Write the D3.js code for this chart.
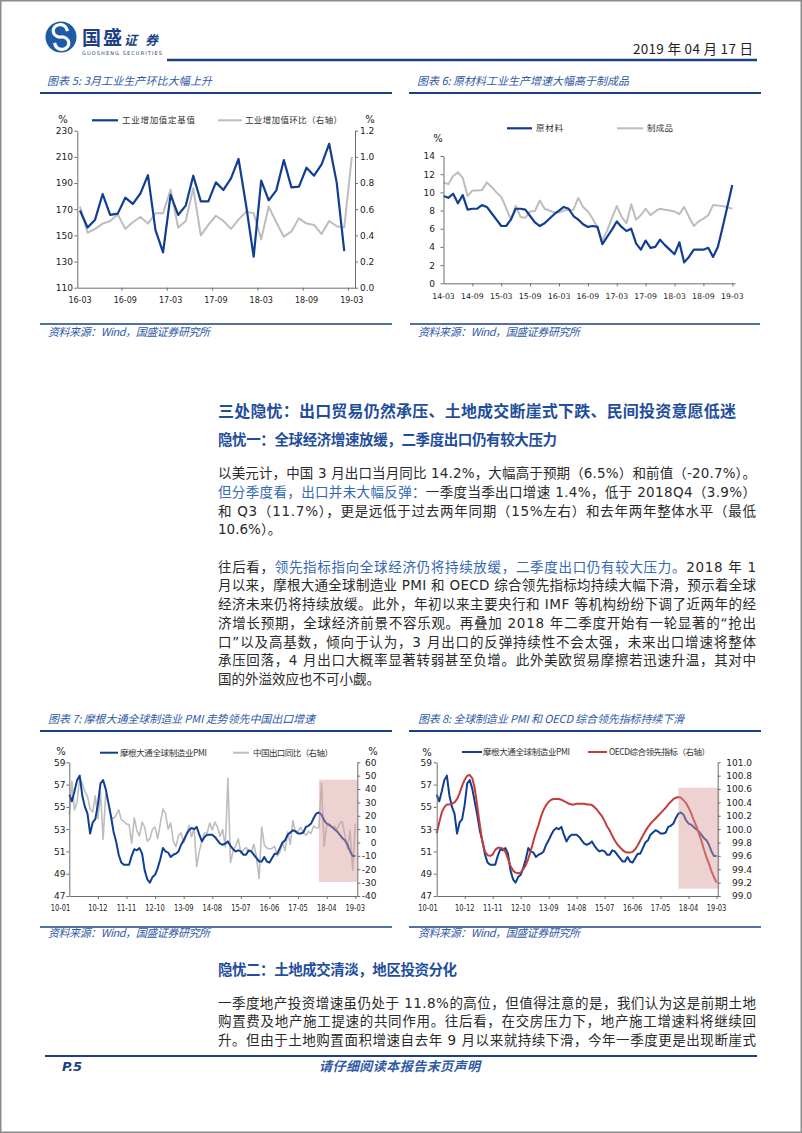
<!DOCTYPE html>
<html>
<head>
<meta charset="utf-8">
<script src="https://cdn.jsdelivr.net/npm/d3@7/dist/d3.min.js"></script>
<style>
  body { margin: 0; background: #fff; }
  svg { display: block; }
</style>
</head>
<body>
<div id="page"></div>
<script>
// ---------------- data ----------------

// 图表5: 工业增加值定基值 / 环比（右轴），2016-03 ~ 2019-03
var c5Names = ['工业增加值定基值', '工业增加值环比（右轴）'];
var c5Base = [169, 156, 162, 181.6, 165.6, 166.6, 178.8, 174, 182, 196,
  154, 137, 181, 165.6, 172.7, 195.6, 176, 176, 190.5, 184.7,
  193.6, 208.4, 173, 133.7, 191.8, 176.8, 184.4, 207.6, 186.7, 187.3,
  201.7, 195.6, 204.3, 220, 190.3, 138];
var c5Mom = [0.62, 0.42, 0.45, 0.49, 0.51, 0.56, 0.45, 0.50, 0.54, 0.49,
  0.57, 0.57, 0.75, 0.46, 0.51, 0.76, 0.40, 0.48, 0.55, 0.51,
  0.45, 0.52, 0.58, 0.57, 0.37, 0.62, 0.50, 0.39, 0.43, 0.53,
  0.49, 0.48, 0.41, 0.51, 0.47, 0.46, 1.00];
var c5LeftTicks = [110, 130, 150, 170, 190, 210, 230];
var c5RightTicks = [0, 0.2, 0.4, 0.6, 0.8, 1.0, 1.2];
var c5XLabels = ['16-03', '16-09', '17-03', '17-09', '18-03', '18-09', '19-03'];

// 图表6: 原材料 / 制成品，2014-03 ~ 2019-03
var c6Names = ['原材料', '制成品'];
var c6Raw = [9.6, 9.4, 9.85, 8.8, 9.7, 8.1, 8.2, 8.2, 8.6, 8.4,
  7.7, 7.0, 6.3, 6.3, 7.0, 8.2, 8.2, 8.1, 7.4, 6.7,
  6.3, 6.6, 7.1, 7.6, 8.0, 8.4, 8.2, 7.4, 7.0, 6.5,
  6.2, 6.3, 6.2, 4.3, 5.1, 5.9, 6.8, 6.2, 5.75, 6.0,
  4.4, 3.7, 4.7, 3.9, 4.0, 4.8, 4.2, 3.7, 3.2, 4.5,
  2.3, 2.9, 3.7, 3.7, 3.7, 3.9, 2.9, 4.0, 6.2, 8.5,
  10.8];
var c6Made = [11.1, 10.9, 11.8, 12.2, 11.6, 9.6, 10.2, 10.2, 10.25, 11.1,
  10.6, 10.0, 9.5, 8.3, 7.0, 8.5, 7.3, 7.2, 7.9, 7.95,
  9.1, 8.2, 8.0, 7.8, 7.8, 8.0, 8.05, 8.1, 9.4, 8.4,
  7.9, 7.1, 6.1, 4.7, 5.8, 7.2, 8.5, 7.3, 6.6, 8.7,
  7.0, 7.5, 8.2, 7.5, 7.9, 8.2, 8.1, 8.0, 7.9, 7.6,
  8.4, 7.3, 6.3, 6.8, 7.1, 7.5, 8.6, 8.55, 8.5, 8.35,
  8.2];
var c6Ticks = [0, 2, 4, 6, 8, 10, 12, 14];
var c6XLabels = ['14-03', '14-09', '15-03', '15-09', '16-03', '16-09', '17-03', '17-09', '18-03', '18-09', '19-03'];

// 图表7/8: 摩根大通全球制造业PMI, 中国出口同比, OECD综合领先指标，2010-01 ~ 2019-03
var pmiName = '摩根大通全球制造业PMI';
var exportName = '中国出口同比（右轴）';
var oecdName = 'OECD综合领先指标（右轴）';
var pmi = [56.1, 55.5, 56.4, 57.4, 57.8, 56.0, 55.0, 54.4, 52.6, 53.6,
  53.9, 55.2, 57.1, 57.4, 56.6, 55.4, 54.2, 52.8, 51.9, 50.7,
  50.0, 49.8, 49.8, 49.8, 50.6, 51.2, 51.1, 51.3, 50.8, 49.3,
  48.5, 48.2, 48.7, 48.9, 49.5, 50.3, 51.3, 51.0, 50.9, 50.5,
  50.7, 50.8, 51.0, 51.6, 52.0, 52.5, 52.9, 53.1, 53.0, 53.2,
  52.5, 51.9, 52.3, 52.5, 52.5, 52.5, 52.3, 52.0, 51.7, 51.6,
  51.7, 51.9, 51.5, 51.2, 51.0, 51.1, 51.0, 50.7, 50.7, 51.1,
  51.0, 50.7, 50.4, 50.1, 50.1, 50.5, 50.1, 50.0, 50.4, 50.8,
  50.8, 51.3, 51.8, 52.0, 52.5, 52.7, 52.9, 52.8, 52.6, 52.6,
  52.7, 53.2, 53.3, 53.5, 54.0, 54.4, 54.5, 54.3, 53.8, 53.5,
  53.4, 53.2, 53.0, 52.8, 52.5, 52.2, 52.0, 51.6, 51.0, 50.6,
  50.6];
var exportYoy = [21.0, 45.7, 24.3, 30.5, 48.5, 43.9, 38.1, 34.4, 25.1, 22.9, 34.9, 17.9,
  37.7, 2.4, 35.8, 29.9, 19.4, 17.9, 20.4, 24.5, 17.1, 15.9, 13.8, 13.4,
  -0.5, 18.4, 8.9, 4.9, 15.3, 11.3, 1.0, 2.7, 9.9, 11.6, 2.9, 14.1,
  25.0, 21.8, 10.0, 14.7, 1.0, -3.1, 5.1, 7.2, -0.3, 5.6, 12.7, 4.3,
  10.6, -18.1, -6.6, 0.9, 7.0, 7.2, 14.5, 9.4, 15.3, 11.6, 4.7, 9.7,
  -3.3, 48.3, -15.0, -6.4, -2.5, 2.8, -8.3, -5.5, -3.7, -6.9, -6.8, -1.4,
  -11.2, -27.0, 11.5, -1.8, -4.1, -4.8, -4.4, -2.8, -10.0, -7.3, 0.1, -6.1,
  7.9, -1.3, 16.4, 8.0, 8.7, 11.3, 7.2, 5.5, 8.1, 6.9, 12.3, 10.9,
  11.1, 44.5, -2.7, 12.9, 12.6, 11.3, 12.2, 9.8, 14.5, 15.6, 5.4, -4.4,
  9.1, -20.7, 14.2];
var oecd = [99.94, 100.10, 100.25, 100.33, 100.37, 100.37, 100.38, 100.40, 100.45, 100.54,
  100.65, 100.74, 100.80, 100.81, 100.76, 100.60, 100.33, 100.05, 99.80, 99.66,
  99.61, 99.60, 99.62, 99.69, 99.72, 99.72, 99.71, 99.66, 99.56, 99.45,
  99.38, 99.35, 99.34, 99.35, 99.40, 99.46, 99.56, 99.68, 99.82, 99.95,
  100.06, 100.19, 100.29, 100.36, 100.41, 100.44, 100.45, 100.45, 100.45, 100.44,
  100.42, 100.40, 100.38, 100.37, 100.37, 100.38, 100.38, 100.38, 100.38, 100.37,
  100.37, 100.36, 100.33, 100.29, 100.24, 100.19, 100.12, 100.04, 99.98, 99.90,
  99.83, 99.77, 99.73, 99.69, 99.66, 99.65, 99.65, 99.66, 99.70, 99.76,
  99.83, 99.90, 99.97, 100.03, 100.08, 100.12, 100.16, 100.20, 100.24, 100.28,
  100.32, 100.37, 100.41, 100.45, 100.47, 100.48, 100.47, 100.43, 100.39, 100.32,
  100.24, 100.14, 100.05, 99.94, 99.83, 99.70, 99.58, 99.48, 99.37, 99.28,
  99.20];
var pmiTicks = [47, 49, 51, 53, 55, 57, 59];
var exportTicks = [-40, -30, -20, -10, 0, 10, 20, 30, 40, 50, 60];
var oecdTicks = [99.0, 99.2, 99.4, 99.6, 99.8, 100.0, 100.2, 100.4, 100.6, 100.8, 101.0];
var c78XLabels = ['10-01', '10-12', '11-11', '12-10', '13-09', '14-08', '15-07', '16-06', '17-05', '18-04', '19-03'];

// ---------------- page ----------------
var fmtM = d3.timeFormat('%y-%m');
function months(y0, m0, y1, m1) {
  return d3.timeMonth.range(new Date(y0, m0 - 1, 1), new Date(y1, m1, 1)).map(fmtM);
}

var BLUE = '#103e92', GREY = '#bdbdbd', RED = '#c43c3c', NAVY = '#1d3f86',
    TBLUE = '#2f5aa6', HEAD = '#1f4e9c', EMPH = '#3468b4', BODY = '#2a2a2a', AX = '#6e6e6e';
var CN = '"Noto Sans CJK SC", sans-serif';
var NUM = '"DejaVu Sans", "Noto Sans CJK SC", sans-serif';

var svg = d3.select('#page').append('svg')
    .attr('width', 802)
    .attr('height', 1133);

svg.append('rect')
    .attr('x', 0.75).attr('y', 0.75)
    .attr('width', 800.5).attr('height', 1131.5)
    .attr('fill', '#fff')
    .attr('stroke', '#8c8c8c')
    .attr('stroke-width', 1.5);

function txt(x, y, s, o) {
  o = o || {};
  var t = svg.append('text')
      .attr('x', x).attr('y', y)
      .attr('font-family', o.font || CN)
      .attr('font-size', o.size || 12)
      .attr('fill', o.fill || BODY)
      .text(s);
  if (o.weight) t.attr('font-weight', o.weight);
  if (o.italic) t.attr('font-style', 'italic');
  if (o.anchor) t.attr('text-anchor', o.anchor);
  if (o.len) t.attr('textLength', o.len).attr('lengthAdjust', o.adjust || 'spacing');
  return t;
}
function hline(x1, x2, y, w, c) {
  svg.append('line')
      .attr('x1', x1).attr('x2', x2).attr('y1', y).attr('y2', y)
      .attr('stroke', c || NAVY).attr('stroke-width', w);
}

// header: logo + date
svg.append('circle').attr('cx', 61).attr('cy', 37).attr('r', 15.5).attr('fill', '#1e5aa8');
svg.append('path')
    .attr('d', 'M67,29.5 A7,6.2 0 1 0 61,37 A7,6.2 0 1 1 55,44.5')
    .attr('fill', 'none').attr('stroke', '#fff').attr('stroke-width', 3.2).attr('stroke-linecap', 'square');
txt(82, 45, '国盛', { size: 19, weight: 'bold', fill: NAVY, len: 40 });
txt(124, 45, '证券', { size: 13, weight: 'bold', italic: true, fill: NAVY, len: 34 });
txt(82, 54.5, 'GUOSHENG SECURITIES', { font: NUM, size: 5, fill: NAVY, len: 80 });
txt(753, 54, '2019 年 04 月 17 日', { size: 13.5, anchor: 'end', fill: '#222', len: 120 });
hline(167, 757, 60, 2.5);

// chart titles + rules
var titleOpt = { size: 11, italic: true, fill: TBLUE };
txt(47, 84.5, '图表 5:  3月工业生产环比大幅上升', Object.assign({ len: 165 }, titleOpt));
txt(417, 84.5, '图表 6:  原材料工业生产增速大幅高于制成品', Object.assign({ len: 212 }, titleOpt));
hline(40, 392, 93, 2);
hline(409, 761, 93, 2);
txt(48, 723, '图表 7:  摩根大通全球制造业 PMI 走势领先中国出口增速', Object.assign({ len: 267 }, titleOpt));
txt(418, 723, '图表 8:  全球制造业 PMI 和 OECD 综合领先指标持续下滑', Object.assign({ len: 266 }, titleOpt));
hline(40, 392, 731, 2);
hline(409, 761, 731, 2);

// sources
var srcOpt = { size: 11, italic: true, fill: TBLUE, len: 162 };
hline(40, 392, 324, 1.5);
hline(410, 760, 324, 1.5);
txt(48, 336, '资料来源：Wind，国盛证券研究所', srcOpt);
txt(418, 336, '资料来源：Wind，国盛证券研究所', srcOpt);
hline(40, 392, 927, 1.5);
hline(409, 761, 927, 1.5);
txt(48, 937, '资料来源：Wind，国盛证券研究所', srcOpt);
txt(418, 937, '资料来源：Wind，国盛证券研究所', srcOpt);

// ---------------- charts ----------------
function drawChart(c) {
  var n = c.cats.length;
  var x = d3.scaleLinear().domain([0, n - 1]).range([c.px0, c.px1]);
  var xa = d3.scaleLinear().domain([x.invert(c.axL), x.invert(c.axR)]).range([c.axL, c.axR]);
  var yL = d3.scaleLinear().domain(c.leftDom).range([c.yBot, c.yTop]);
  var yR = c.rightDom ? d3.scaleLinear().domain(c.rightDom).range([c.yBot, c.yTop]) : null;
  var g = svg.append('g');

  c.series.forEach(function (s) {
    var y = s.axis === 'right' ? yR : yL;
    g.append('path')
        .datum(s.values)
        .attr('fill', 'none')
        .attr('stroke', s.color)
        .attr('stroke-width', s.width)
        .attr('stroke-linejoin', 'round')
        .attr('d', d3.line()
            .x(function (d, i) { return x(i); })
            .y(function (d) { return y(d); }));
  });

  // shaded box over the latest period
  if (c.shade) {
    var i0 = c.cats.indexOf(c.shade.from);
    g.append('rect')
        .attr('x', x(i0))
        .attr('y', yR(c.shade.top))
        .attr('width', c.axR + (c.shade.extra || 0) - x(i0))
        .attr('height', yR(c.shade.bottom) - yR(c.shade.top))
        .attr('fill', '#d99a9a')
        .attr('opacity', 0.45);
  }

  function styleAxis(sel, fs) {
    sel.select('.domain').attr('stroke', AX);
    sel.selectAll('.tick line').attr('stroke', AX);
    sel.selectAll('.tick text')
        .attr('font-family', NUM)
        .attr('font-size', fs)
        .attr('fill', '#222');
  }

  var gl = g.append('g')
      .attr('transform', 'translate(' + c.axL + ',0)')
      .call(d3.axisLeft(yL).tickValues(c.leftTicks).tickSize(3).tickSizeOuter(0)
          .tickPadding(c.axL - c.leftLabelX - 3).tickFormat(c.leftFmt));
  styleAxis(gl, c.yfs);

  if (yR) {
    var gr = g.append('g')
        .attr('transform', 'translate(' + c.axR + ',0)')
        .call(d3.axisRight(yR).tickValues(c.rightTicks).tickSize(3).tickSizeOuter(0)
            .tickPadding(2).tickFormat(c.rightFmt));
    styleAxis(gr, c.yfs);
    if (c.rightAnchor === 'end') {
      gr.selectAll('.tick text')
          .attr('text-anchor', 'end')
          .attr('x', c.rightLabelX - c.axR);
    } else {
      gr.selectAll('.tick text').attr('x', c.rightLabelX - c.axR);
    }
  }

  // category axis: ticks from the label list
  var tickIdx = c.xLabels.map(function (l) { return c.cats.indexOf(l) - (c.between ? 0.5 : 0); })
      .filter(function (v) { return v > 0.5; });
  var gx = g.append('g')
      .attr('transform', 'translate(0,' + c.yBot + ')')
      .call(d3.axisBottom(xa).tickValues(tickIdx).tickSize(3).tickSizeOuter(0).tickFormat(''));
  styleAxis(gx, c.xfs);

  c.xLabels.forEach(function (l, k) {
    var i = c.cats.indexOf(l);
    var t = g.append('text')
        .attr('x', (k === 0 && c.firstEnd) ? c.axL + 1 : x(i))
        .attr('y', c.xLabelY)
        .attr('dy', '0.35em')
        .attr('text-anchor', (k === 0 && c.firstEnd) ? 'end' : 'middle')
        .attr('font-family', NUM)
        .attr('font-size', c.xfs)
        .attr('fill', '#222')
        .text(l);
    if (c.xLabelLen) t.attr('textLength', c.xLabelLen).attr('lengthAdjust', 'spacingAndGlyphs');
  });

  // "%" unit marks
  c.units.forEach(function (u) {
    g.append('text').attr('x', u[0]).attr('y', u[1]).attr('dy', '0.35em')
        .attr('text-anchor', 'middle')
        .attr('font-family', NUM).attr('font-size', 10).attr('fill', '#222')
        .text('%');
  });

  // legend
  c.legend.forEach(function (lg) {
    g.append('line')
        .attr('x1', lg.x0).attr('x2', lg.x1).attr('y1', lg.y).attr('y2', lg.y)
        .attr('stroke', lg.color).attr('stroke-width', lg.w);
    g.append('text')
        .attr('x', lg.tx).attr('y', lg.y).attr('dy', '0.36em')
        .attr('font-family', CN).attr('font-size', 8.5).attr('fill', '#333')
        .attr('textLength', lg.tw).attr('lengthAdjust', 'spacing')
        .text(lg.text);
  });
}

var m5 = months(2016, 3, 2019, 3);
var m6 = months(2014, 3, 2019, 3);
var m78 = months(2010, 1, 2019, 3);

drawChart({
  cats: m5, px0: 80, px1: 351.8, axL: 77.3, axR: 355, yTop: 130.7, yBot: 287.7,
  leftDom: [110, 230], leftTicks: c5LeftTicks, leftFmt: String, leftLabelX: 73,
  rightDom: [0, 1.2], rightTicks: c5RightTicks, rightFmt: function (d) { return d.toFixed(1); },
  rightLabelX: 360,
  between: true, xLabels: c5XLabels, xLabelY: 300, yfs: 9, xfs: 8,
  series: [
    { values: c5Mom, axis: 'right', color: GREY, width: 2 },
    { values: c5Base, axis: 'left', color: BLUE, width: 2.2 }
  ],
  units: [[63, 119], [370, 119]],
  legend: [
    { x0: 92, x1: 118, y: 120.3, tx: 122, tw: 73, text: c5Names[0], color: BLUE, w: 2.2 },
    { x0: 218, x1: 242, y: 120.3, tx: 245, tw: 97, text: c5Names[1], color: GREY, w: 2 }
  ]
});

drawChart({
  cats: m6, px0: 443.5, px1: 732.3, axL: 443.5, axR: 735, yTop: 156, yBot: 283.3,
  leftDom: [0, 14], leftTicks: c6Ticks, leftFmt: String, leftLabelX: 435,
  between: false, xLabels: c6XLabels, xLabelY: 296.7, yfs: 9, xfs: 7.8,
  series: [
    { values: c6Made, axis: 'left', color: GREY, width: 2 },
    { values: c6Raw, axis: 'left', color: BLUE, width: 2.2 }
  ],
  units: [[438, 138]],
  legend: [
    { x0: 507, x1: 532, y: 128.3, tx: 536, tw: 27, text: c6Names[0], color: BLUE, w: 2.2 },
    { x0: 617, x1: 643, y: 128.3, tx: 647, tw: 26, text: c6Names[1], color: GREY, w: 2 }
  ]
});

drawChart({
  cats: m78, px0: 69.3, px1: 355.3, axL: 69.3, axR: 357.3, yTop: 762.3, yBot: 896,
  leftDom: [47, 59], leftTicks: pmiTicks, leftFmt: String, leftLabelX: 65.5,
  rightDom: [-40, 60], rightTicks: exportTicks, rightFmt: String,
  rightLabelX: 376.5, rightAnchor: 'end',
  between: false, firstEnd: true, xLabels: c78XLabels, xLabelY: 908, yfs: 9, xfs: 8, xLabelLen: 19.5,
  series: [
    { values: exportYoy, axis: 'right', color: GREY, width: 1.6 },
    { values: pmi, axis: 'left', color: BLUE, width: 2 }
  ],
  shade: { from: '18-01', top: 47, bottom: -29.5 },
  units: [[61, 751], [373, 751]],
  legend: [
    { x0: 100, x1: 118, y: 752.7, tx: 120, tw: 87, text: pmiName, color: BLUE, w: 2 },
    { x0: 233, x1: 249, y: 752.7, tx: 253, tw: 80, text: exportName, color: GREY, w: 2 }
  ]
});

drawChart({
  cats: m78, px0: 436.7, px1: 716.6, axL: 436.7, axR: 717.7, yTop: 762.3, yBot: 896,
  leftDom: [47, 59], leftTicks: pmiTicks, leftFmt: String, leftLabelX: 432,
  rightDom: [99, 101], rightTicks: oecdTicks, rightFmt: function (d) { return d.toFixed(1); },
  rightLabelX: 752, rightAnchor: 'end',
  between: false, firstEnd: true, xLabels: c78XLabels, xLabelY: 908, yfs: 9, xfs: 8, xLabelLen: 19.5,
  series: [
    { values: pmi, axis: 'left', color: BLUE, width: 2 },
    { values: oecd, axis: 'right', color: RED, width: 2 }
  ],
  shade: { from: '17-12', top: 100.62, bottom: 99.11, extra: 1.6 },
  units: [[427, 752]],
  legend: [
    { x0: 462, x1: 482, y: 752, tx: 483, tw: 87, text: pmiName, color: BLUE, w: 2 },
    { x0: 588, x1: 607, y: 752, tx: 609, tw: 101, text: oecdName, color: RED, w: 2 }
  ]
});

// ---------------- body text ----------------
var para1 = [
  [['以美元计，中国 3 月出口当月同比 14.2%，大幅高于预期（6.5%）和前值（-20.7%）。', 0]],
  [['但分季度看，出口并未大幅反弹：', 1], ['一季度当季出口增速 1.4%，低于 2018Q4（3.9%）', 0]],
  [['和 Q3（11.7%），更是远低于过去两年同期（15%左右）和去年两年整体水平（最低', 0]],
  [['10.6%）。', 0]]
];
var para2 = [
  [['往后看，', 0], ['领先指标指向全球经济仍将持续放缓，二季度出口仍有较大压力。', 1], ['2018 年 1', 0]],
  [['月以来，摩根大通全球制造业 PMI 和 OECD 综合领先指标均持续大幅下滑，预示着全球', 0]],
  [['经济未来仍将持续放缓。此外，年初以来主要央行和 IMF 等机构纷纷下调了近两年的经', 0]],
  [['济增长预期，全球经济前景不容乐观。再叠加 2018 年二季度开始有一轮显著的“抢出', 0]],
  [['口”以及高基数，倾向于认为，3 月出口的反弹持续性不会太强，未来出口增速将整体', 0]],
  [['承压回落，4 月出口大概率显著转弱甚至负增。此外美欧贸易摩擦若迅速升温，其对中', 0]],
  [['国的外溢效应也不可小觑。', 0]]
];
var para3 = [
  [['一季度地产投资增速虽仍处于 11.8%的高位，但值得注意的是，我们认为这是前期土地', 0]],
  [['购置费及地产施工提速的共同作用。往后看，在交房压力下，地产施工增速料将继续回', 0]],
  [['升。但由于土地购置面积增速自去年 9 月以来就持续下滑，今年一季度更是出现断崖式', 0]]
];

function para(lines, y0, lh, lastFull) {
  lines.forEach(function (segs, i) {
    var t = svg.append('text')
        .attr('x', 218)
        .attr('y', y0 + i * lh + 5)
        .attr('font-family', NUM)
        .attr('font-size', 13.5)
        .attr('fill', BODY);
    if (i < lines.length - 1 || lastFull) t.attr('textLength', 538).attr('lengthAdjust', 'spacing');
    segs.forEach(function (s) {
      t.append('tspan').attr('fill', s[1] ? EMPH : BODY).text(s[0]);
    });
  });
}

txt(218, 416.5, '三处隐忧：出口贸易仍然承压、土地成交断崖式下跌、民间投资意愿低迷',
    { size: 16, weight: 'bold', fill: HEAD, len: 518 });
txt(218, 444.5, '隐忧一：全球经济增速放缓，二季度出口仍有较大压力',
    { size: 14.5, weight: 'bold', fill: HEAD, len: 339 });
para(para1, 473.3, 18.6);
para(para2, 566.7, 18.7);

txt(218, 975.2, '隐忧二：土地成交清淡，地区投资分化',
    { size: 14.5, weight: 'bold', fill: HEAD, len: 239 });
para(para3, 1002.7, 18.7, true);

// footer
hline(45, 757, 1056, 2.2);
txt(62, 1071, 'P.5', { font: NUM, size: 13, weight: 'bold', italic: true, fill: NAVY });
txt(319, 1071, '请仔细阅读本报告末页声明', { size: 13, weight: 'bold', italic: true, fill: TBLUE, len: 161 });
</script>
</body>
</html>
